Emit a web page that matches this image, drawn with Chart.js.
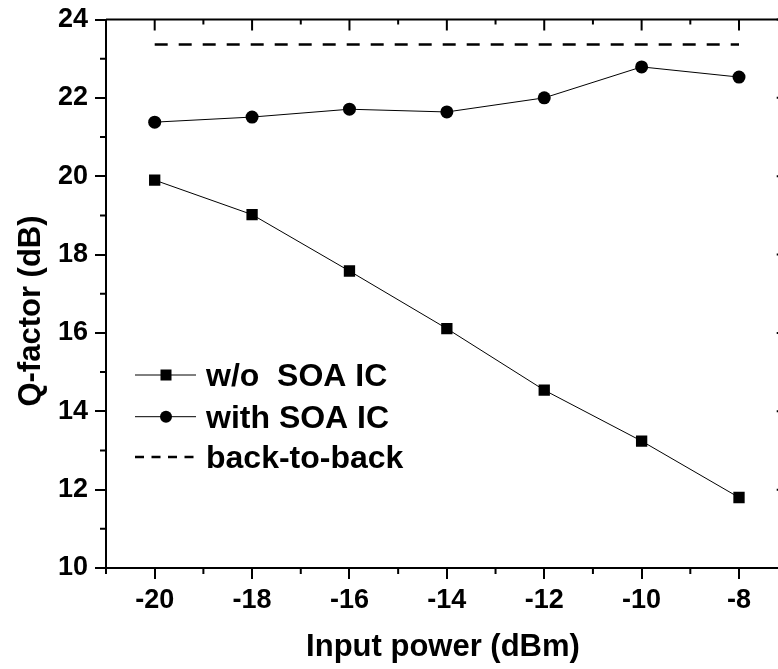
<!DOCTYPE html>
<html><head><meta charset="utf-8">
<script src="https://cdn.jsdelivr.net/npm/chart.js"></script>
<style>html,body{margin:0;padding:0;overflow:hidden;background:#fff}
#wrap{position:relative;width:800px;height:669px}</style>
</head><body><div id="wrap"><canvas id="c" width="800" height="669"></canvas></div>
<script>
const inputPower = [-20, -18, -16, -14, -12, -10, -8];
const qWithoutSOA = [19.9, 19.02, 17.58, 16.11, 14.54, 13.24, 11.8];
const qWithSOA = [21.38, 21.51, 21.71, 21.64, 22.0, 22.79, 22.53];
const qBackToBack = [23.36, 23.36, 23.36, 23.36, 23.36, 23.36, 23.36];
const xTickValues = [-20, -18, -16, -14, -12, -10, -8];
const yTickValues = [10, 12, 14, 16, 18, 20, 22, 24];
const xMinorValues = [-21, -19, -17, -15, -13, -11, -9, -7];
const yMinorValues = [11, 13, 15, 17, 19, 21, 23];
const legendLabels = ['w/o  SOA IC', 'with SOA IC', 'back-to-back'];
const xTitle = 'Input power (dBm)';
const yTitle = 'Q-factor (dB)';

const FONT = '"Liberation Sans", Arial, Helvetica, sans-serif';
const toXY = (xs, ys) => xs.map((x, i) => ({x: x, y: ys[i]}));

const framePlugin = {
  id: 'frame',
  afterDraw(chart) {
    const ctx = chart.ctx, a = chart.chartArea;
    const xs = chart.scales.x, ys = chart.scales.y;
    ctx.save();
    ctx.strokeStyle = '#000';
    ctx.lineWidth = 2;
    ctx.beginPath();
    ctx.moveTo(a.left, a.top); ctx.lineTo(a.right, a.top); ctx.lineTo(a.right, a.bottom);
    ctx.stroke();
    ctx.beginPath();
    xTickValues.forEach(v => { const p = xs.getPixelForValue(v); ctx.moveTo(p, a.top); ctx.lineTo(p, a.top + 11); });
    xMinorValues.forEach(v => { const p = xs.getPixelForValue(v);
      ctx.moveTo(p, a.top); ctx.lineTo(p, a.top + 5);
      ctx.moveTo(p, a.bottom); ctx.lineTo(p, a.bottom + 6); });
    yTickValues.forEach(v => { const p = ys.getPixelForValue(v); ctx.moveTo(a.right, p); ctx.lineTo(a.right - 11, p); });
    yMinorValues.forEach(v => { const p = ys.getPixelForValue(v);
      ctx.moveTo(a.right, p); ctx.lineTo(a.right - 5, p);
      ctx.moveTo(a.left, p); ctx.lineTo(a.left - 6, p); });
    ctx.stroke();
    // axis titles
    ctx.fillStyle = '#000';
    ctx.font = 'bold 31px ' + FONT;
    ctx.textAlign = 'center';
    ctx.textBaseline = 'middle';
    ctx.fillText(xTitle, 443, 647);
    ctx.translate(31.6, 311);
    ctx.rotate(-Math.PI / 2);
    ctx.fillText(yTitle, 0, 0);
    ctx.restore();
  }
};

const legendPlugin = {
  id: 'customLegend',
  afterDatasetsDraw(chart) {
    const ctx = chart.ctx;
    const rows = [375, 416.7, 457];
    const x0 = 135, x1 = 196, xm = 166, tx = 206;
    ctx.save();
    ctx.fillStyle = '#000'; ctx.strokeStyle = '#000';
    chart.data.datasets.forEach((ds, i) => {
      const y = rows[i];
      ctx.lineWidth = ds.borderWidth;
      ctx.setLineDash(i === 2 ? [9, 7.5] : []);
      ctx.beginPath(); ctx.moveTo(x0, y); ctx.lineTo(x1, y); ctx.stroke();
      ctx.setLineDash([]);
      if (ds.pointStyle === 'rect') { ctx.fillRect(xm - 5.5, y - 5.5, 11, 11); }
      else if (ds.pointStyle === 'circle') { ctx.beginPath(); ctx.arc(xm, y, 6, 0, Math.PI * 2); ctx.fill(); }
      ctx.font = 'bold 32px ' + FONT;
      ctx.textBaseline = 'middle';
      ctx.textAlign = 'left';
      ctx.fillText(legendLabels[i], tx, y + 2);
    });
    ctx.restore();
  }
};

new Chart(document.getElementById('c'), {
  type: 'line',
  data: {
    datasets: [
      {label: legendLabels[0], data: toXY(inputPower, qWithoutSOA), borderColor: '#000', backgroundColor: '#000',
       borderWidth: 1, pointStyle: 'rect', pointRadius: 8, pointBorderWidth: 0, pointBackgroundColor: '#000'},
      {label: legendLabels[1], data: toXY(inputPower, qWithSOA), borderColor: '#000', backgroundColor: '#000',
       borderWidth: 1, pointStyle: 'circle', pointRadius: 6.5, pointBorderWidth: 0, pointBackgroundColor: '#000'},
      {label: legendLabels[2], data: toXY(inputPower, qBackToBack), borderColor: '#000', borderWidth: 2.5,
       borderDash: [13, 11], pointRadius: 0}
    ]
  },
  options: {
    responsive: false, animation: false, devicePixelRatio: 1,
    layout: {padding: {top: 19.5, right: 12.3, left: 0, bottom: 0}},
    plugins: {legend: {display: false}, tooltip: {enabled: false}},
    scales: {
      x: {
        type: 'linear', min: -21, max: -7,
        afterBuildTicks: s => { s.ticks = xTickValues.map(v => ({value: v})); },
        afterFit: s => { s.height = 101; s.paddingLeft = 0; s.paddingRight = 0; },
        grid: {display: true, drawOnChartArea: false, drawTicks: true, tickLength: 11, color: '#000', lineWidth: 2},
        border: {display: true, color: '#000', width: 2},
        ticks: {color: '#000', font: {family: FONT, size: 27, weight: 'bold'}, padding: 5, maxRotation: 0, autoSkip: false},
        title: {display: false, text: xTitle}
      },
      y: {
        type: 'linear', min: 10, max: 24,
        afterBuildTicks: s => { s.ticks = yTickValues.map(v => ({value: v})); },
        afterFit: s => { s.width = 106; s.paddingTop = 0; s.paddingBottom = 0; },
        grid: {display: true, drawOnChartArea: false, drawTicks: true, tickLength: 11, color: '#000', lineWidth: 2},
        border: {display: true, color: '#000', width: 2},
        ticks: {color: '#000', font: {family: FONT, size: 27, weight: 'bold'}, padding: 7, autoSkip: false},
        title: {display: false, text: yTitle}
      }
    }
  },
  plugins: [framePlugin, legendPlugin]
});
</script></body></html>
